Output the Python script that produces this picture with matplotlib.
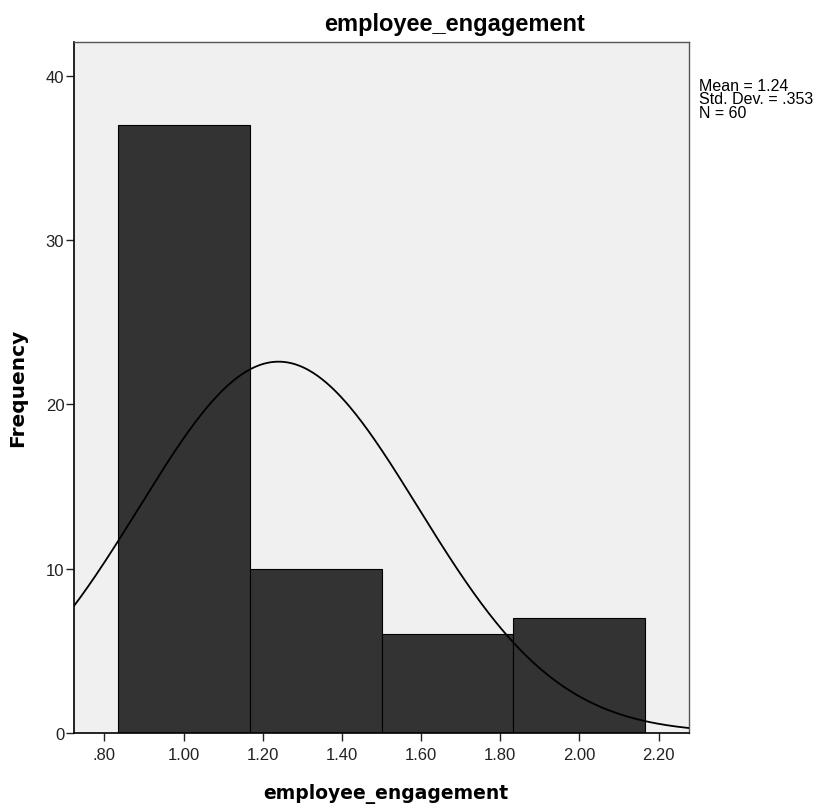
import numpy as np
import matplotlib.pyplot as plt

plt.rcParams['font.family'] = ['Liberation Sans', 'DejaVu Sans']

# histogram data
bin_edges = [0.8333, 1.1667, 1.5, 1.8333, 2.1667]
counts = [37, 10, 6, 7]
mean = 1.24
std = 0.353
n = 60

xticks = [0.8, 1.0, 1.2, 1.4, 1.6, 1.8, 2.0, 2.2]
xtick_labels = ['.80', '1.00', '1.20', '1.40', '1.60', '1.80', '2.00', '2.20']
yticks = [0, 10, 20, 30, 40]

fig = plt.figure(figsize=(8.18, 8.12), dpi=100)
ax = fig.add_axes([74/818, 1-734/812, (689-74)/818, (734-42.5)/812])
ax.set_facecolor('#f0f0f0')

widths = np.diff(bin_edges)
ax.bar(bin_edges[:-1], counts, width=widths, align='edge',
       color='#333333', edgecolor='black', linewidth=0.8, zorder=2)

# normal curve scaled to the histogram
bw = widths[0]
xs = np.linspace(0.72, 2.28, 400)
ys = n * bw / (std * np.sqrt(2*np.pi)) * np.exp(-0.5*((xs-mean)/std)**2)
ax.plot(xs, ys, color='black', linewidth=1.3, zorder=3)

ax.set_xlim(0.723, 2.277)
ax.set_ylim(0, 42.1)
ax.set_xticks(xticks)
ax.set_xticklabels(xtick_labels)
ax.set_yticks(yticks)
ax.tick_params(axis='both', labelsize=12, length=6, width=1, direction='out',
               colors='#222222')
ax.tick_params(axis='x', pad=4)
ax.tick_params(axis='y', pad=1)

for s in ['left', 'bottom']:
    ax.spines[s].set_color('black')
    ax.spines[s].set_linewidth(1.2)
for s in ['top', 'right']:
    ax.spines[s].set_color('#555555')
    ax.spines[s].set_linewidth(1)

fig.text(455/818, 1-25/812, 'employee_engagement', fontsize=17,
         fontweight='bold', ha='center', va='center')
fig.text(386/818, 1-794/812, 'employee_engagement', fontsize=13.5,
         fontweight='bold', ha='center', va='center', family='DejaVu Sans')
fig.text(18/818, 1-388/812, 'Frequency', fontsize=14.5, rotation=90,
         fontweight='bold', ha='center', va='center', family='DejaVu Sans')

fig.text(699/818, 1-79/812, 'Mean = 1.24\nStd. Dev. = .353\nN = 60',
         fontsize=11.5, va='top', ha='left', linespacing=0.87)

fig.savefig('out.png', dpi=100)
